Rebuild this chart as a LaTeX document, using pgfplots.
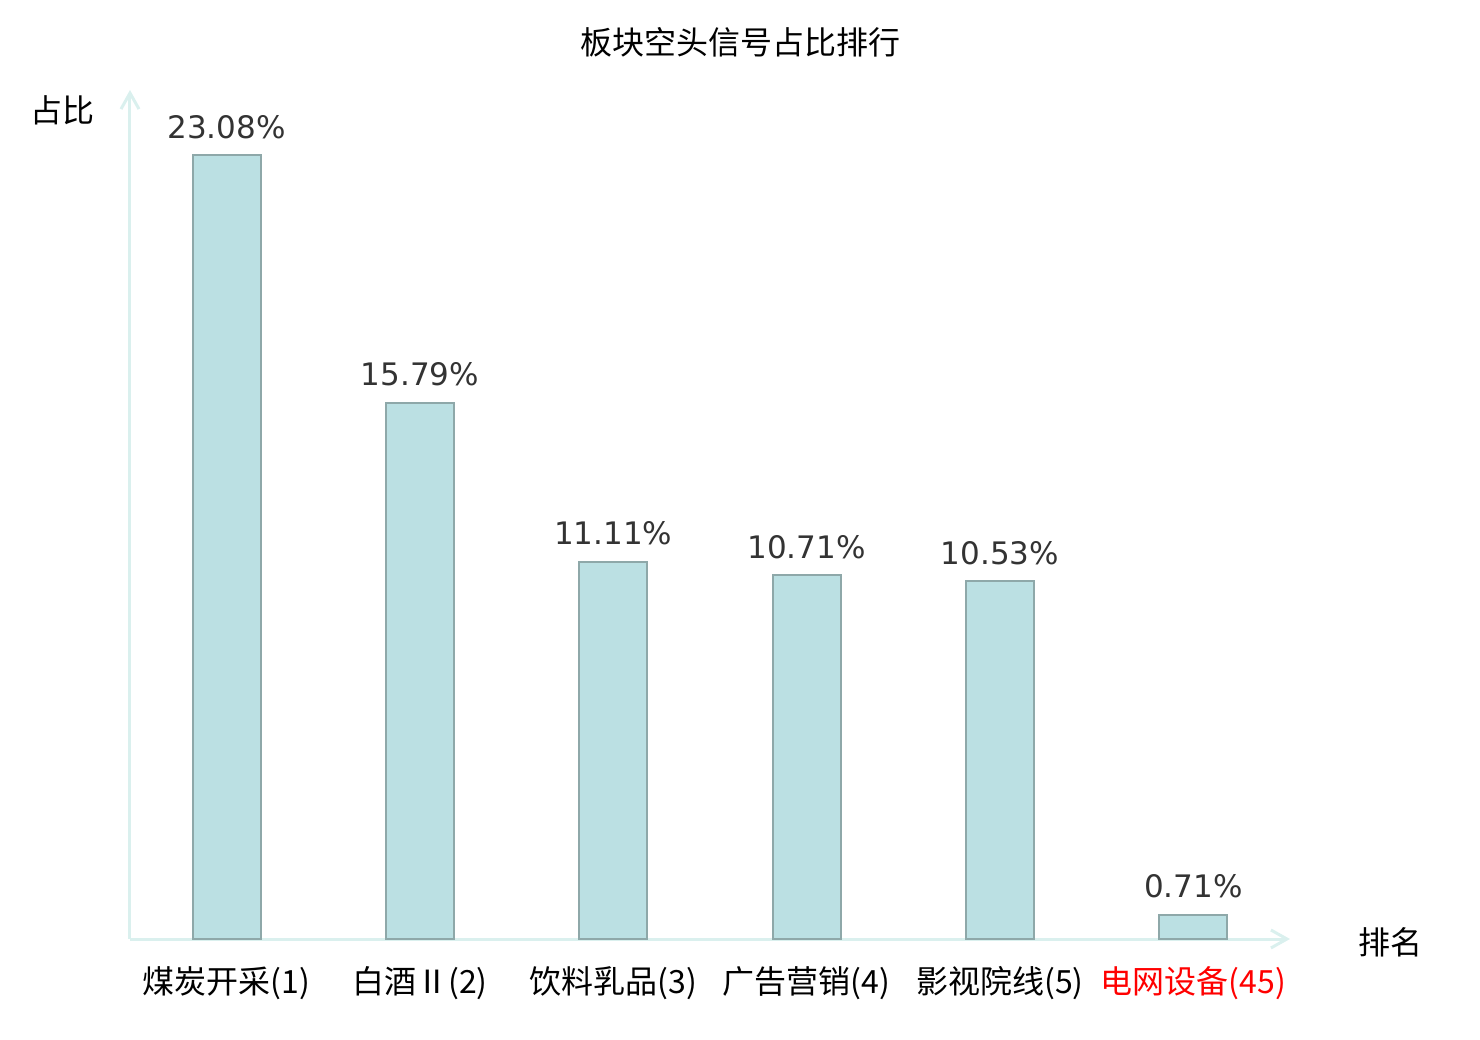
\documentclass[border=0pt]{standalone}
\usepackage{pgfplots}
\pgfplotsset{compat=1.18}
\usepackage{fontspec}
\setmainfont{DejaVu Sans}
\newfontfamily\cjk{Noto Sans CJK SC}
\usetikzlibrary{arrows.meta}
\definecolor{barfill}{HTML}{BBE0E3}
\definecolor{baredge}{HTML}{8EA8A9}
\definecolor{axcol}{HTML}{DAF0EE}
\definecolor{lblcol}{HTML}{333333}
\begin{document}
\begin{tikzpicture}
\path[use as bounding box] (0,0) rectangle (740pt,520pt);
\begin{axis}[
  at={(65pt,50.5pt)}, anchor=south west,
  scale only axis, width=580pt, height=424.5pt,
  xmin=-0.5, xmax=5.5, ymin=0, ymax=25,
  axis lines=left,
  axis line style={axcol, line width=1.5pt},
  every outer x axis line/.append style={-{Straight Barb[length=8pt,width=9pt,line width=1.5pt]}},
  every outer y axis line/.append style={-{Straight Barb[length=8pt,width=9pt,line width=1.5pt]}},
  xtick={0,...,5},
  xticklabels={煤炭开采(1), 白酒Ⅱ(2), 饮料乳品(3), 广告营销(4), 影视院线(5), \textcolor{red}{电网设备(45)}},
  major tick length=0pt,
  ytick=\empty,
  xticklabel style={font=\cjk\fontsize{16}{18}\selectfont, anchor=center, yshift=-22pt},
  ybar, bar width=34pt,
  nodes near coords={\pgfmathprintnumber[fixed,fixed zerofill,precision=2,assume math mode=true]{\pgfplotspointmeta}\%},
  point meta=y,
  nodes near coords style={font=\fontsize{15.5}{18}\selectfont, color=lblcol, anchor=south, yshift=4.5pt},
  clip=false,
  title={\cjk 板块空头信号占比排行},
  title style={font=\cjk\fontsize{16}{18}\selectfont, at={(rel axis cs:0.526,1.0425)}, anchor=center},
  xlabel={排名},
  xlabel style={font=\cjk\fontsize{16}{18}\selectfont, at={(rel axis cs:1.087,-0.004)}, anchor=center},
  ylabel={占比},
  ylabel style={font=\cjk\fontsize{16}{18}\selectfont, at={(rel axis cs:-0.058,0.976)}, anchor=center, rotate=-90},
]
\addplot[fill=barfill, draw=baredge, line width=1pt] coordinates {
  (0,23.08) (1,15.79) (2,11.11) (3,10.71) (4,10.53) (5,0.71)
};
\end{axis}
\end{tikzpicture}
\end{document}
